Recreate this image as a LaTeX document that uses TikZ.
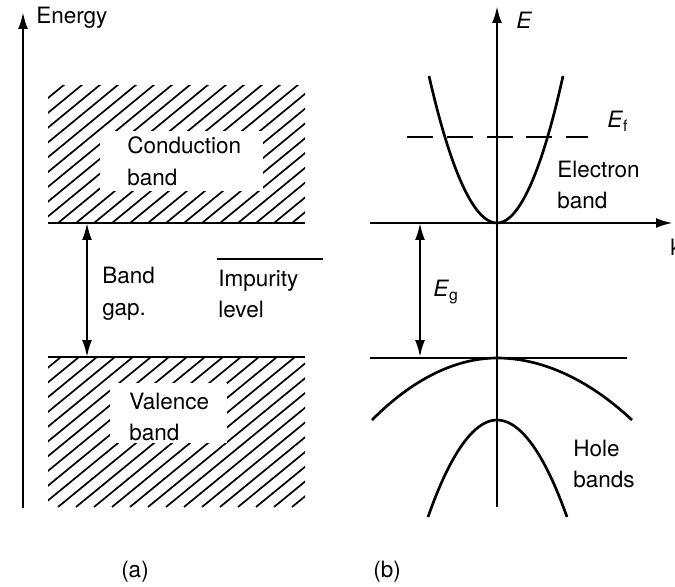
\documentclass[tikz,border=0pt]{standalone}
\usepackage{fontspec}
\setmainfont{TeX Gyre Heros}
\usetikzlibrary{arrows.meta}
\tikzset{
  >={Latex[length=12pt,width=7pt]},
  axis/.style={->,line width=1.8pt},
  level/.style={line width=1.7pt},
  band/.style={line width=1.9pt},
  hatch/.style={line width=1.2pt},
  gaparrow/.style={<->,line width=1.5pt},
  fermi/.style={line width=1.6pt,dash pattern=on 18.5pt off 9.8pt,dash phase=0pt},
  lbl/.style={font=\fontsize{16}{22.5}\selectfont,align=left,inner sep=0pt},
  clearing/.style={fill=white,draw=none},
}

\begin{document}
\begin{tikzpicture}[x=0.025cm,y=-0.025cm]
    \useasboundingbox (0,0) rectangle (675,586);
    % (a) energy levels
    \coordinate (eb) at (23,508);
    \coordinate (et) at (23,12);
    \draw[axis] (eb) -- (et);
    \node[lbl,anchor=west] (energy) at (36,18) {Energy};
    % hatched bands
    \begin{scope}
      \clip (48,85) rectangle (305,223);
      \foreach \s in {-140,-122,...,320} \draw[hatch] (\s,223) -- ++(180,-148);
    \end{scope}
    \begin{scope}
      \clip (48,357) rectangle (305,507);
      \foreach \s in {-140,-122,...,320} \draw[hatch] (\s,507) -- ++(200,-164);
    \end{scope}
    \fill[clearing] (100,131) rectangle (263,191);
    \fill[clearing] (110,383) rectangle (227,443);
    \coordinate (cl) at (48,223);
    \coordinate (cr) at (305,223);
    \coordinate (vl) at (48,357);
    \coordinate (vr) at (305,357);
    \draw[level] (cl) -- (cr);
    \draw[level] (vl) -- (vr);
    \coordinate (il) at (217,259);
    \coordinate (ir) at (323,259);
    \draw[level] (il) -- (ir);
    \coordinate (ga) at (87,223);
    \coordinate (gb) at (87,357);
    \draw[gaparrow] (ga) -- (gb);
    \node[lbl,anchor=west] (cond) at (127,161) {Conduction\\band};
    \node[lbl,anchor=west] (gap) at (102,294) {Band\\gap.};
    \node[lbl,anchor=west] (imp) at (218,294) {Impurity\\level};
    \node[lbl,anchor=west] (val) at (129,417) {Valence\\band};
    \node[lbl] (capa) at (135,572) {(a)};
    % (b) band structure
    \coordinate (vb) at (497,507);
    \coordinate (vt) at (497,6);
    \draw[axis] (vb) -- (vt);
    \coordinate (hl) at (370,223);
    \coordinate (hr) at (673,223);
    \draw[axis] (hl) -- (hr);
    \node[lbl,anchor=west] (elab) at (516,20) {\textit{E}};
    \node[lbl,anchor=west] (klab) at (670,247) {k};
    \draw[band] (429,76) parabola bend (497,223) (563,76);
    \draw[band] (372,420) parabola bend (497,358) (632,420);
    \draw[band] (428,517) parabola bend (497,420) (567,517);
    \coordinate (fl) at (407,137);
    \coordinate (fr) at (588,137);
    \draw[fermi] (fl) -- (fr);
    \coordinate (tl) at (370,358);
    \coordinate (tr) at (627,358);
    \draw[level] (tl) -- (tr);
    \coordinate (ka) at (420,223);
    \coordinate (kb) at (420,357);
    \draw[gaparrow] (ka) -- (kb);
    \node[lbl,anchor=west] (ef) at (607,121) {\textit{E}\textsubscript{f}};
    \node[lbl,anchor=west] (eg) at (433,292) {\textit{E}\textsubscript{g}};
    \node[lbl,anchor=west] (elec) at (557,185) {Electron\\band};
    \node[lbl,anchor=west] (hole) at (573,464) {Hole\\bands};
    \node[lbl] (capb) at (387,572) {(b)};
\end{tikzpicture}
\end{document}
